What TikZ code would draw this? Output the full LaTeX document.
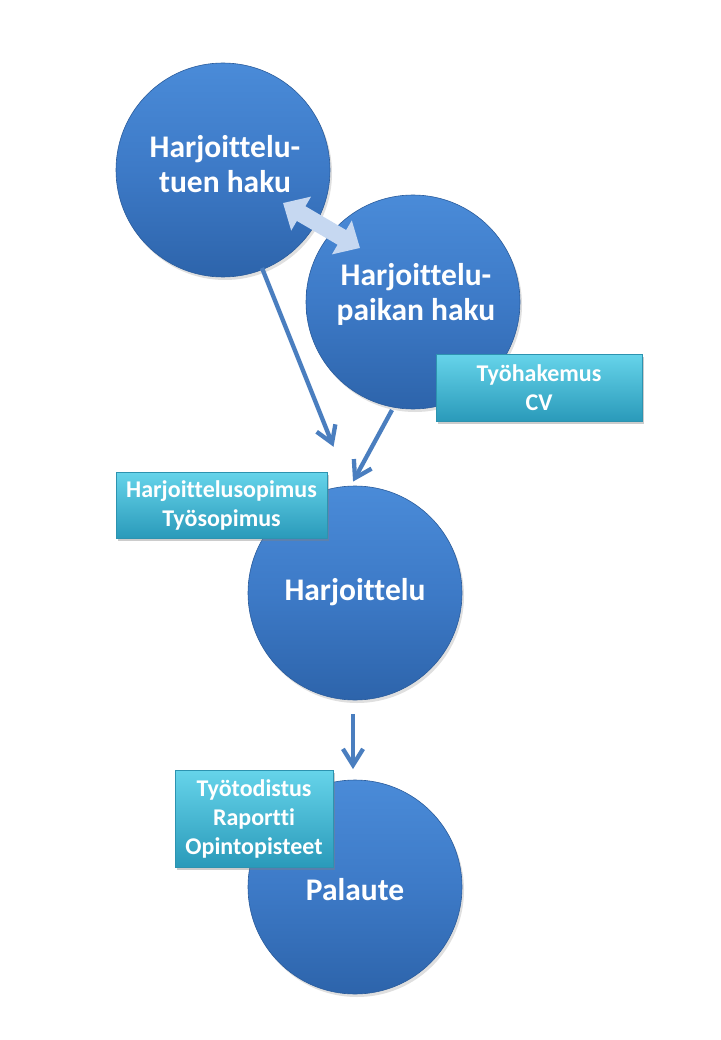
\documentclass[tikz,border=0pt]{standalone}
\usepackage{fontspec}
\setmainfont{Carlito}[Ligatures={NoCommon}]
\usetikzlibrary{arrows.meta,shadows,calc}
\definecolor{circtop}{HTML}{4A8BD8}
\definecolor{circmid}{HTML}{3D7AC7}
\definecolor{circbot}{HTML}{2D64AB}
\definecolor{circrim}{HTML}{2A5C9C}
\definecolor{boxtop}{HTML}{66D4EA}
\definecolor{boxbot}{HTML}{2A9ABA}
\definecolor{boxrim}{HTML}{2D93B0}
\definecolor{arrblue}{HTML}{4A7EBF}
\definecolor{dbl}{HTML}{C6D8F1}
\begin{document}
\begin{tikzpicture}[x=1pt,y=-1pt,
  bigcirc/.style={circle, minimum size=214pt, inner sep=0pt,
    top color=circtop, bottom color=circbot, middle color=circmid,
    draw=circrim, line width=0.6pt,
    drop shadow={shadow xshift=2pt, shadow yshift=-3pt, opacity=0.25}},
  circtext/.style={text=white, align=center, inner sep=0pt,
    font=\fontsize{31.5}{35}\selectfont\bfseries},
  infobox/.style={rectangle, inner sep=0pt,
    top color=boxtop, bottom color=boxbot,
    draw=boxrim, line width=0.6pt,
    drop shadow={shadow xshift=2pt, shadow yshift=-3pt, opacity=0.4},
    text=white, align=center,
    font=\fontsize{24}{29}\selectfont\bfseries},
  flow/.style={draw=arrblue, line width=4.3pt, line join=miter},
  swap/.style={draw=dbl, line width=17pt,
    {Triangle[length=21pt,width=38pt]}-{Triangle[length=21pt,width=38pt]}}
]
\useasboundingbox (0,0) rectangle (720,1040);
\fill[white] (0,0) rectangle (720,1040);

% circles
\node[bigcirc] (c1) at (223,170) {};
\node[bigcirc] (c2) at (413,302) {};
\node[bigcirc] (c3) at (355,593) {};
\node[bigcirc] (c4) at (355,887) {};

% circle texts
\node[circtext] (t1) at ([xshift=2pt,yshift=6pt]c1.center) {Harjoittelu-\\tuen haku};
\node[circtext] (t2) at ([xshift=3pt,yshift=8pt]c2.center) {Harjoittelu-\\paikan haku};
\node[circtext] (t3) at ([yshift=1pt]c3.center) {Harjoittelu};
\node[circtext] (t4) at ([yshift=-3pt]c4.center) {Palaute};

% boxes
\node[infobox, minimum width=206pt, minimum height=67pt] (b1) at (539,387.5) {Työhakemus\\CV};
\node[infobox, minimum width=211pt, minimum height=66pt] (b2) at (221.5,505) {Harjoittelusopimus\\Työsopimus};
\node[infobox, minimum width=158pt, minimum height=97pt] (b3) at (254,818.5) {Työtodistus\\Raportti\\Opintopisteet};

% connector end points
\coordinate (a1s) at (262,268);
\coordinate (a1e) at (332,443);
\coordinate (a2s) at (392,410);
\coordinate (a2e) at (355,478);
\coordinate (a3s) at (353,714);
\coordinate (a3e) at (353,765);
\coordinate (d1) at (283,203);
\coordinate (d2) at (360,248);

% connectors
\draw[flow] (a1s) -- ($(a1e)!2pt!(a1s)$);
\draw[flow] ($(a1e)!19pt!32:(a1s)$) -- (a1e) -- ($(a1e)!19pt!-32:(a1s)$);
\draw[flow] (a2s) -- ($(a2e)!2pt!(a2s)$);
\draw[flow] ($(a2e)!19pt!32:(a2s)$) -- (a2e) -- ($(a2e)!19pt!-32:(a2s)$);
\draw[flow] (a3s) -- ($(a3e)!2pt!(a3s)$);
\draw[flow] ($(a3e)!19pt!32:(a3s)$) -- (a3e) -- ($(a3e)!19pt!-32:(a3s)$);
\draw[swap] (d1) -- (d2);
\end{tikzpicture}
\end{document}
